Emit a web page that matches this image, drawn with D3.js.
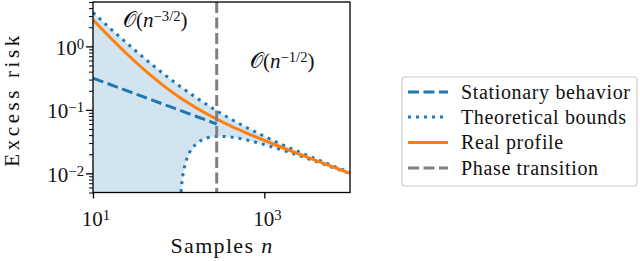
<!DOCTYPE html>
<html><head><meta charset="utf-8">
<script src="https://cdn.jsdelivr.net/npm/d3@7"></script>
<style>
html,body{margin:0;padding:0;background:#fff;}
svg{display:block;}
text{font-family:"Liberation Serif","DejaVu Serif",serif;fill:#111;}
</style></head>
<body>
<svg id="chart" width="640" height="261"></svg>
<script>
// ---- data ----
const nGrid = [10,12.59,15.85,19.95,25.12,31.62,39.81,50.12,63.10,79.43,100,125.9,158.5,199.5,251.2,316.2,398.1,501.2,631.0,794.3,1000,1259,1585,1995,2512,3162,3981,5012,6310,7943,10000];
const stationary = [0.3162,0.2818,0.2512,0.2239,0.1995,0.1778,0.1585,0.1413,0.1259,0.1122,0.1,0.08913,0.07943,0.07080,0.06310,0.05623,0.05012,0.04467,0.03981,0.03548,0.03162,0.02818,0.02512,0.02239,0.01995,0.01778,0.01585,0.01413,0.01259,0.01122,0.01];
const upperBound = [3.417,2.563,1.929,1.458,1.108,0.8458,0.6499,0.5028,0.3918,0.3078,0.2439,0.1950,0.1573,0.1281,0.1052,0.08724,0.07293,0.06145,0.05215,0.04456,0.03830,0.03310,0.02873,0.02505,0.02191,0.01922,0.01691,0.01490,0.01316,0.01164,0.01031];
const realProfile = [2.621,1.898,1.383,1.015,0.7521,0.5628,0.4262,0.3271,0.2547,0.2012,0.1615,0.1315,0.1086,0.09085,0.07686,0.06568,0.05660,0.04911,0.04285,0.03756,0.03305,0.02916,0.02579,0.02284,0.02027,0.01800,0.01600,0.01423,0.01266,0.01127,0.01003];
const nLower = [104,106,108,111,115,120,125.9,158.5,199.5,251.2,316.2,398.1,501.2,631.0,794.3,1000,1259,1585,1995,2512,3162,3981,5012,6310,7943,10000];
const lowerBound = [0.00283,0.00458,0.00624,0.00855,0.01135,0.01445,0.01762,0.02881,0.03496,0.03773,0.03827,0.03740,0.03567,0.03344,0.03097,0.02843,0.02592,0.02352,0.02125,0.01915,0.01722,0.01545,0.01384,0.01239,0.01108,0.00990];
const transitionN = 278;
const xTicks = [10, 1000];
const xTickExp = ["1", "3"];
const yTicks = [1, 0.1, 0.01];
const yTickExp = ["0", "\u22121", "\u22122"];
const legendLabels = ["Stationary behavior", "Theoretical bounds", "Real profile", "Phase transition"];
const annotations = [
  {n: 22.4, v: 2.02, exp: "\u22123/2"},
  {n: 680, v: 0.457, exp: "\u22121/2"}
];

// ---- layout ----
const svg = d3.select("#chart");
const L = 93, R = 350, T = 2, B = 192.5;
const x = d3.scaleLog().domain([10, 1e4]).range([L, R]);
const y = d3.scaleLog().domain([0.005, 5]).range([B, T]);
const blue = "#1f77b4", orange = "#ff7f0e", gray = "#7f7f7f";

// fit a text to a target width: font-size up to maxSize, then (optionally) letter-spacing for the rest
function fitWidth(sel, target, maxSize, spacing = true) {
  sel.style("font-size", "20px").style("letter-spacing", "0px");
  const w = sel.node().getBBox().width;
  let fs = 20 * target / w;
  if (maxSize && fs > maxSize) fs = maxSize;
  sel.style("font-size", fs + "px");
  if (spacing) {
    const w2 = sel.node().getBBox().width;
    const nch = sel.text().length;
    if (target > w2 + 0.5) sel.style("letter-spacing", ((target - w2) / nch) + "px");
  }
  return sel;
}
function addPow(sel, base, exp) {
  sel.append("tspan").text(base);
  sel.append("tspan").attr("dy", "-0.42em").style("font-size", "0.7em").text(exp);
}

svg.append("defs").append("clipPath").attr("id", "clip")
  .append("rect").attr("x", L).attr("y", T).attr("width", R - L).attr("height", B - T);
const plot = svg.append("g").attr("clip-path", "url(#clip)");

// fill between bounds
const fillPts = nGrid.map((n, i) => [x(n), y(upperBound[i])]);
const lowRev = nLower.map((n, i) => [x(n), y(lowerBound[i])]).reverse();
const fillPoly = fillPts.concat(lowRev, [[x(100), y(0.001)], [x(10), y(0.001)]]);
plot.append("path").attr("d", d3.line()(fillPoly))
  .attr("fill", blue).attr("fill-opacity", 0.2).attr("stroke", "none");

const line = d3.line().curve(d3.curveMonotoneX);
// stationary (dashed) up to the transition
const statPts = nGrid.map((n, i) => [n, stationary[i]]).filter(d => d[0] <= transitionN);
const sEnd = stationary[0] * Math.sqrt(nGrid[0] / transitionN);
statPts.push([transitionN, sEnd]);
plot.append("path").attr("d", line(statPts.map(d => [x(d[0]), y(d[1])])))
  .attr("fill", "none").attr("stroke", blue).attr("stroke-width", 3).attr("stroke-dasharray", "11,4.5");
// bounds (dotted)
const dotStyle = p => p.attr("fill", "none").attr("stroke", blue).attr("stroke-width", 3).attr("stroke-dasharray", "3,5");
dotStyle(plot.append("path").attr("d", line(nGrid.map((n, i) => [x(n), y(upperBound[i])]))));
dotStyle(plot.append("path").attr("d", line(nLower.map((n, i) => [x(n), y(lowerBound[i])]))));
// real profile
plot.append("path").attr("d", line(nGrid.map((n, i) => [x(n), y(realProfile[i])])))
  .attr("fill", "none").attr("stroke", orange).attr("stroke-width", 3);
// phase transition
plot.append("line").attr("x1", x(transitionN)).attr("x2", x(transitionN)).attr("y1", T).attr("y2", B)
  .attr("stroke", gray).attr("stroke-width", 3).attr("stroke-dasharray", "11,4.5");

// frame
svg.append("rect").attr("x", L).attr("y", T).attr("width", R - L).attr("height", B - T)
  .attr("fill", "none").attr("stroke", "#000").attr("stroke-width", 1.3);

// x axis
const xAxis = svg.append("g").attr("transform", `translate(0,${B})`)
  .call(d3.axisBottom(x).tickValues(xTicks).tickSize(6).tickFormat(""));
xAxis.select(".domain").remove();
xAxis.selectAll(".tick line").attr("stroke", "#000").attr("stroke-width", 1.3);
xTicks.forEach((t, i) => {
  const tx = svg.append("text").attr("x", x(t) + 3).attr("y", 226).attr("text-anchor", "middle");
  addPow(tx, "10", xTickExp[i]);
  fitWidth(tx, 30, 21, false);
});

// y axis with minor ticks
const minor = [];
for (let e = -3; e <= 0; e++) for (let m = 2; m <= 9; m++) {
  const v = m * Math.pow(10, e);
  if (v >= 0.005 && v <= 5.0001) minor.push(v);
}
const yMinor = svg.append("g").attr("transform", `translate(${L},0)`)
  .call(d3.axisLeft(y).tickValues(minor).tickSize(4).tickFormat(""));
yMinor.select(".domain").remove();
yMinor.selectAll(".tick line").attr("stroke", "#000").attr("stroke-width", 1);
const yMajor = svg.append("g").attr("transform", `translate(${L},0)`)
  .call(d3.axisLeft(y).tickValues(yTicks).tickSize(7).tickFormat(""));
yMajor.select(".domain").remove();
yMajor.selectAll(".tick line").attr("stroke", "#000").attr("stroke-width", 1.3);
yTicks.forEach((t, i) => {
  const tx = svg.append("text").attr("x", 84).attr("y", y(t) + 8.5).attr("text-anchor", "end")
    .style("font-size", "21px");
  addPow(tx, "10", yTickExp[i]);
});

// axis titles
const xt = svg.append("text").attr("x", 222).attr("y", 253).attr("text-anchor", "middle");
xt.append("tspan").text("Samples ");
xt.append("tspan").style("font-style", "italic").text("n");
fitWidth(xt, 103, 22);
const yt = svg.append("text").attr("transform", "translate(19,99.5) rotate(-90)").attr("text-anchor", "middle")
  .text("Excess risk");
fitWidth(yt, 135, 21);

// annotations
annotations.forEach(a => {
  const t = svg.append("text").attr("x", x(a.n)).attr("y", y(a.v));
  t.append("tspan").text("\u{1D4AA}(");
  t.append("tspan").style("font-style", "italic").text("n");
  t.append("tspan").attr("dy", "-0.42em").style("font-size", "0.7em").text(a.exp);
  t.append("tspan").attr("dy", "0.3em").text(")");
  fitWidth(t, 82, 21, false);
});

// legend
const lg = svg.append("g");
lg.append("rect").attr("x", 402).attr("y", 77).attr("width", 235).attr("height", 109).attr("rx", 3)
  .attr("fill", "#fff").attr("fill-opacity", 0.8).attr("stroke", "#cccccc").attr("stroke-width", 1.2);
const rowY = [92, 117, 142.5, 168];
const styles = [
  {c: blue, d: "11,4.5"}, {c: blue, d: "3,5"}, {c: orange, d: null}, {c: gray, d: "11,4.5"}
];
let legendFont = null, legendLS = null;
legendLabels.forEach((lab, i) => {
  const ln = lg.append("line").attr("x1", 408).attr("x2", 448).attr("y1", rowY[i]).attr("y2", rowY[i])
    .attr("stroke", styles[i].c).attr("stroke-width", 3);
  if (styles[i].d) ln.attr("stroke-dasharray", styles[i].d);
  const t = lg.append("text").attr("x", 461).attr("y", rowY[i] + 6.5).text(lab);
  if (i === 0) { fitWidth(t, 170, 20); legendFont = t.style("font-size"); legendLS = t.style("letter-spacing"); }
  else t.style("font-size", legendFont).style("letter-spacing", legendLS);
});
</script>
</body></html>
